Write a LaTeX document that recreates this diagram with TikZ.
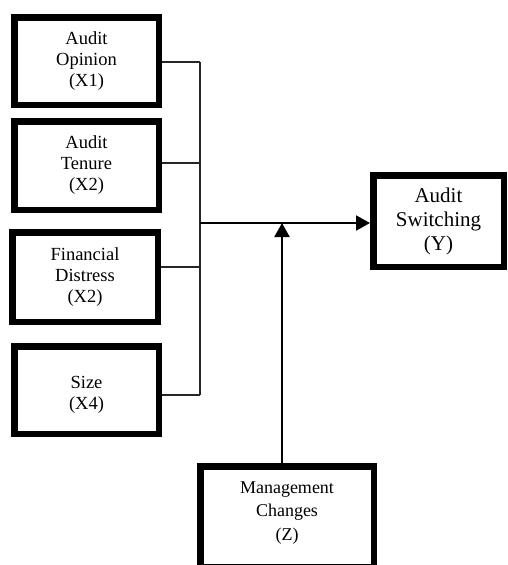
\documentclass[tikz,border=0pt]{standalone}
\usepackage{fontspec}
\setmainfont{Liberation Serif}
\usetikzlibrary{arrows.meta}
\begin{document}
\begin{tikzpicture}[x=1pt,y=-1pt,
  box/.style={draw=black,line width=6.5pt,rectangle,inner sep=0pt,align=center,fill=white},
  lbox/.style={box,minimum width=144.5pt,font=\fontsize{18.5}{21}\selectfont},
  ybox/.style={box,minimum width=130.5pt,minimum height=91.5pt,font=\fontsize{21}{24}\selectfont},
  zbox/.style={box,minimum width=173.5pt,minimum height=100.5pt},
  ztxt/.style={align=center,inner sep=0pt,font=\fontsize{18}{23.5}\selectfont},
  bus/.style={draw=black!85,line width=1.5pt},
  arr/.style={draw=black,line width=2pt,-{Triangle[length=14pt,width=15pt]}}]
\useasboundingbox (0,0) rectangle (507,565);
\node[lbox,minimum height=87.5pt] (b1) at (86.5,61) {Audit\\Opinion\\(X1)};
\node[lbox,minimum height=88.5pt] (b2) at (86.5,165.5) {Audit\\Tenure\\(X2)};
\node[lbox,minimum width=145.5pt,minimum height=89.5pt] (b3) at (85,277) {Financial\\Distress\\(X2)};
\node[lbox,minimum height=87.5pt] (b4) at (86.5,390) {~\\Size\\(X4)};
\node[ybox] (y) at (438.5,221) {Audit\\Switching\\(Y)};
\node[zbox] (z) at (287,516.5) {};
\node[ztxt] (zt) at (287,513) {Management\\Changes\\(Z)};
\coordinate (p1) at (200,62);
\coordinate (p2) at (200,163);
\coordinate (p3) at (200,267);
\coordinate (p4) at (200,395);
\coordinate (pm) at (200,223);
\coordinate (zs) at (282,463);
\draw[bus] (p1) -- (p4);
\draw[bus] (b1.east |- p1) -- (p1);
\draw[bus] (b2.east |- p2) -- (p2);
\draw[bus] (b3.east |- p3) -- (p3);
\draw[bus] (b4.east |- p4) -- (p4);
\draw[arr] (pm) -- (pm -| y.west);
\draw[arr] (zs) -- (zs |- pm);
\end{tikzpicture}
\end{document}
